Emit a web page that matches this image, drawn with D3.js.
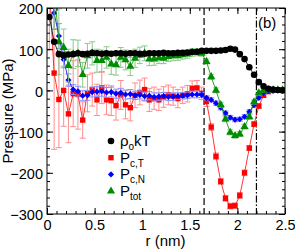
<!DOCTYPE html>
<html>
<head>
<meta charset="utf-8">
<script src="https://cdn.jsdelivr.net/npm/d3@7"></script>
<style>
	body { margin: 0; background: #fff; }
	text { font-family: "Liberation Sans", Arial, sans-serif; }
</style>
</head>
<body>
<svg id="chart" width="295" height="251"></svg>
<script>
// radial positions (nm)
var rVals = [0.025,0.075,0.125,0.175,0.225,0.275,0.325,0.375,0.425,0.475,
	0.525,0.575,0.625,0.675,0.725,0.775,0.825,0.875,0.925,0.975,
	1.025,1.075,1.125,1.175,1.225,1.275,1.325,1.375,1.425,1.475,
	1.525,1.575,1.625,1.675,1.725,1.775,1.825,1.875,1.925,1.975,
	2.025,2.075,2.125,2.175,2.225,2.275,2.325,2.375,2.425,2.475];

var rhoKT = [178,118,88,85,87,88,90,88,89,91,
	90,89,90,89,90,90,89,90,90,89,
	89,90,90,90,91,90,90,91,91,92,
	93,94,96,96,96,96,97,98,101,99,
	88,76,56,38,20,10,4,2,1,0];

var pcT = [250,42,-22,0,-57,-8,-10,-72,-7,2,
	-23,6,-23,-25,-37,-11,-35,-42,-12,-5,
	2,-23,-19,-23,-16,-11,-14,-20,-12,-8,
	5,6,-7,-27,-89,-160,-221,-262,-281,-280,
	-255,-200,-140,-82,-38,-12,-3,0,1,1];
var pcTErr = [150,185,117,87,70,80,84,44,45,40,
	38,38,36,36,35,35,34,32,30,30,
	28,28,27,26,25,24,22,22,20,20,
	18,18,15,12,8,8,7,7,7,7,
	7,7,6,6,5,4,3,2,2,2];

var pcN = [290,188,132,75,25,2,-2,-13,-12,-4,
	-3,-2,-5,-4,-8,-6,-10,-9,-12,-11,
	-14,-13,-16,-15,-14,-16,-15,-14,-13,-12,
	-10,-10,-11,-18,-23,-31,-42,-55,-66,-71,
	-70,-64,-52,-36,-18,-6,-2,-1,0,0];
var pcNErr = [60,40,30,20,15,12,12,12,12,12,
	12,12,12,12,11,11,11,11,10,10,
	10,10,10,9,9,9,9,8,8,8,
	8,8,6,5,5,5,5,5,5,5,
	5,5,5,5,4,3,2,2,2,2];

var pTot = [330,250,118,104,60,88,90,38,84,90,
	72,72,80,64,62,80,74,58,78,85,
	90,76,76,79,78,82,84,84,86,88,
	92,92,90,70,33,0,-35,-70,-102,-110,
	-106,-88,-64,-28,-6,0,1,1,1,1];
var pTotErr = [100,100,80,45,40,35,32,30,30,28,
	28,26,26,25,25,24,24,22,22,20,
	18,16,15,14,13,12,12,11,10,10,
	9,8,7,6,6,6,6,6,6,6,
	6,6,6,5,5,4,3,3,3,3];

var xTicks = [0, 0.5, 1, 1.5, 2, 2.5];
var yTicks = [-300, -200, -100, 0, 100, 200];
var wallLines = [1.65, 2.2];

var margin = {top: 8, right: 10, bottom: 37, left: 47},
	width = 295 - margin.left - margin.right,
	height = 251 - margin.top - margin.bottom;

var svg = d3.select("#chart")
	.append("g")
	.attr("transform", "translate(" + margin.left + "," + margin.top + ")");

var x = d3.scaleLinear().domain([0, 2.5]).range([0, width]);
var y = d3.scaleLinear().domain([-300, 200]).range([height, 0]);

function pack(vals, errs){
	return rVals.map(function(r, i){
		return {r: r, v: vals[i], e: errs ? errs[i] : 0};
	});
}

var series = [
	{name: "pcT", color: "#ff0000", bar: "#ff8c8c", sym: d3.symbolSquare, size: 29, rot: 0, data: pack(pcT, pcTErr)},
	{name: "pcN", color: "#0000ff", bar: "#8c8cff", sym: d3.symbolSquare, size: 19, rot: 45, data: pack(pcN, pcNErr)},
	{name: "pTot", color: "#008c00", bar: "#8cc98c", sym: d3.symbolTriangle, size: 29, rot: 0, data: pack(pTot, pTotErr)},
	{name: "rho", color: "#000000", bar: null, sym: d3.symbolCircle, size: 34, rot: 0, data: pack(rhoKT, null)}
];

svg.append("clipPath").attr("id", "clip")
	.append("rect").attr("width", width).attr("height", height);

var plot = svg.append("g").attr("clip-path", "url(#clip)");

// wall positions
plot.selectAll(".wall")
	.data(wallLines)
	.enter()
	.append("line")
	.attr("x1", function(d){ return x(d); })
	.attr("x2", function(d){ return x(d); })
	.attr("y1", 0).attr("y2", height)
	.style("stroke", "#000")
	.style("stroke-width", 1.2)
	.style("stroke-dasharray", function(d, i){ return i == 0 ? "7,3" : "7,2,1.5,2"; });

var line = d3.line()
	.x(function(d){ return x(d.r); })
	.y(function(d){ return y(d.v); });

series.forEach(function(s){
	var g = plot.append("g").attr("class", "series " + s.name);

	if (s.bar) {
		var eb = g.selectAll(".err")
			.data(s.data)
			.enter()
			.append("g")
			.style("stroke", s.bar)
			.style("stroke-width", 1);
		eb.append("line")
			.attr("x1", function(d){ return x(d.r); })
			.attr("x2", function(d){ return x(d.r); })
			.attr("y1", function(d){ return y(d.v - d.e); })
			.attr("y2", function(d){ return y(d.v + d.e); });
		eb.append("line")
			.attr("x1", function(d){ return x(d.r) - 3; })
			.attr("x2", function(d){ return x(d.r) + 3; })
			.attr("y1", function(d){ return y(d.v - d.e); })
			.attr("y2", function(d){ return y(d.v - d.e); });
		eb.append("line")
			.attr("x1", function(d){ return x(d.r) - 3; })
			.attr("x2", function(d){ return x(d.r) + 3; })
			.attr("y1", function(d){ return y(d.v + d.e); })
			.attr("y2", function(d){ return y(d.v + d.e); });
	}

	g.append("path")
		.datum(s.data)
		.attr("d", line)
		.style("fill", "none")
		.style("stroke", s.color)
		.style("stroke-width", 0.8);

	g.selectAll(".pt")
		.data(s.data)
		.enter()
		.append("path")
		.attr("d", d3.symbol().type(s.sym).size(s.size))
		.attr("transform", function(d){
			return "translate(" + x(d.r) + "," + y(d.v) + ") rotate(" + s.rot + ")";
		})
		.style("fill", s.color);
});

// axes, ticks pointing inward on all sides
var xMinor = d3.range(0, 26).map(function(i){ return i / 10; });
var yMinor = d3.range(-15, 11).map(function(i){ return i * 20; });

svg.append("g")
	.attr("transform", "translate(0," + height + ")")
	.call(d3.axisBottom(x).tickValues(xTicks).tickSize(-6).tickPadding(6)
		.tickFormat(function(d){ return d3.format("")(d); }));
svg.append("g")
	.attr("transform", "translate(0," + height + ")")
	.call(d3.axisBottom(x).tickValues(xMinor).tickSize(-3).tickFormat(""));
svg.append("g")
	.call(d3.axisTop(x).tickValues(xTicks).tickSize(-6).tickFormat(""));
svg.append("g")
	.call(d3.axisTop(x).tickValues(xMinor).tickSize(-3).tickFormat(""));

var yAxis = svg.append("g")
	.call(d3.axisLeft(y).tickValues(yTicks).tickSize(-6).tickPadding(4));
yAxis.selectAll("text").attr("dy", "0.4em");
svg.append("g")
	.call(d3.axisLeft(y).tickValues(yMinor).tickSize(-3).tickFormat(""));
svg.append("g")
	.attr("transform", "translate(" + width + ",0)")
	.call(d3.axisRight(y).tickValues(yTicks).tickSize(-6).tickFormat(""));
svg.append("g")
	.attr("transform", "translate(" + width + ",0)")
	.call(d3.axisRight(y).tickValues(yMinor).tickSize(-3).tickFormat(""));

svg.selectAll(".domain").remove();
svg.selectAll(".tick line").style("stroke", "#000");
svg.selectAll(".tick text")
	.style("font-size", "14.5px")
	.style("fill", "#000")
	.style("font-family", "'Liberation Sans', Arial, sans-serif");

svg.append("rect")
	.attr("width", width).attr("height", height)
	.style("fill", "none")
	.style("stroke", "#000")
	.style("stroke-width", 1);

// axis titles
svg.append("text")
	.attr("x", width / 2 - 0.5)
	.attr("y", height + 32)
	.attr("text-anchor", "middle")
	.style("font-size", "15px")
	.text("r (nm)");

svg.append("text")
	.attr("transform", "translate(" + (13 - margin.left) + "," + (y(-50)) + ") rotate(-90)")
	.attr("text-anchor", "middle")
	.style("font-size", "15px")
	.text("Pressure (MPa)");

svg.append("text")
	.attr("x", 211)
	.attr("y", 20)
	.style("font-size", "15px")
	.text("(b)");

// legend
var legendRows = [
	{main: "\u03c1", sub: "o", tail: "kT", s: series[3]},
	{main: "P", sub: "c,T", tail: "", s: series[0]},
	{main: "P", sub: "c,N", tail: "", s: series[1]},
	{main: "P", sub: "tot", tail: "", s: series[2]}
];

var legend = svg.append("g")
	.attr("transform", "translate(" + (111 - margin.left) + "," + (141 - margin.top) + ")");

var row = legend.selectAll(".row")
	.data(legendRows)
	.enter()
	.append("g")
	.attr("transform", function(d, i){ return "translate(0," + (i * 16.7) + ")"; });

row.append("path")
	.attr("d", function(d){ return d3.symbol().type(d.s.sym).size(d.s.size)(); })
	.attr("transform", function(d){ return "rotate(" + d.s.rot + ")"; })
	.style("fill", function(d){ return d.s.color; });

var lt = row.append("text")
	.attr("x", 9)
	.attr("y", 5)
	.style("font-size", "15px");
lt.append("tspan").text(function(d){ return d.main; });
lt.append("tspan")
	.attr("dy", 4)
	.style("font-size", "10px")
	.text(function(d){ return d.sub; });
lt.append("tspan")
	.attr("dy", -4)
	.text(function(d){ return d.tail; });
</script>
</body>
</html>
